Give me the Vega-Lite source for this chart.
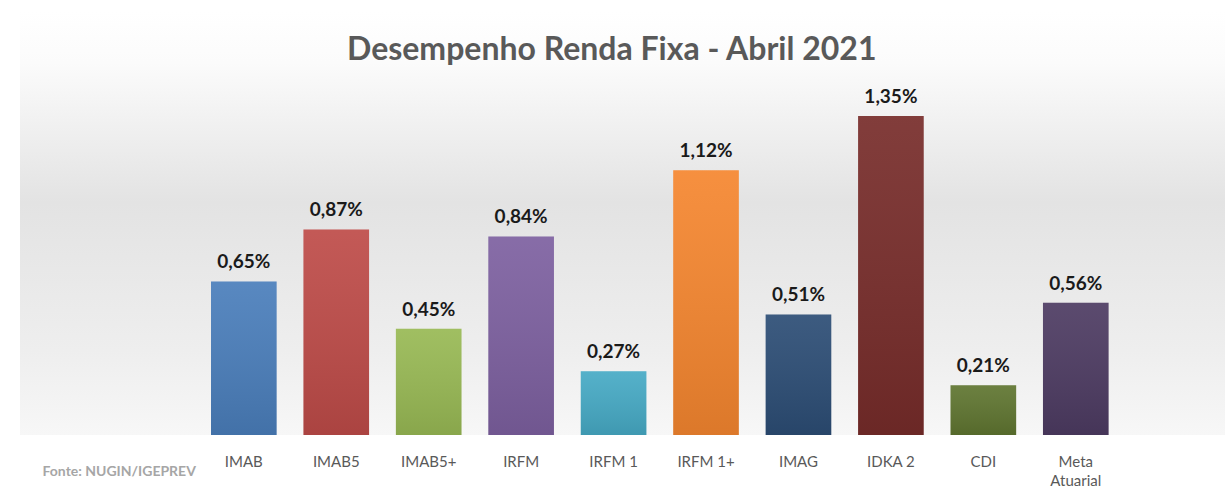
{
  "$schema": "https://vega.github.io/schema/vega-lite/v6.json",
  "autosize": {"type": "none"},
  "width": 1205,
  "height": 423,
  "padding": {"left": 20, "top": 12, "right": 6, "bottom": 54},
  "background": "#ffffff",
  "config": {
    "view": {"stroke": null},
    "locale": {"number": {"decimal": ",", "thousands": ".", "grouping": [3], "currency": ["R$", ""]}},
    "font": "Lato"
  },
  "title": {
    "text": "Desempenho Renda Fixa - Abril 2021",
    "offset": -55,
    "fontSize": 32,
    "font": "Lato",
    "fontWeight": "bold",
    "color": "#595959",
    "anchor": "start",
    "dx": 327,
    "limit": 0
  },
  "datasets": {
    "bars": [
      {"indice": "IMAB", "valor": 0.0065},
      {"indice": "IMAB5", "valor": 0.0087},
      {"indice": "IMAB5+", "valor": 0.0045},
      {"indice": "IRFM", "valor": 0.0084},
      {"indice": "IRFM 1", "valor": 0.0027},
      {"indice": "IRFM 1+", "valor": 0.0112},
      {"indice": "IMAG", "valor": 0.0051},
      {"indice": "IDKA 2", "valor": 0.0135},
      {"indice": "CDI", "valor": 0.0021},
      {"indice": "Meta Atuarial", "valor": 0.0056}
    ]
  },
  "layer": [
    {
      "data": {"values": [{}]},
      "mark": {
        "type": "rect",
        "fill": {
          "gradient": "linear", "x1": 0, "y1": 0, "x2": 0, "y2": 1,
          "stops": [
            {"offset": 0, "color": "#ffffff"},
            {"offset": 0.12, "color": "#fbfbfb"},
            {"offset": 0.45, "color": "#e3e3e3"},
            {"offset": 0.8, "color": "#eeeeee"},
            {"offset": 1, "color": "#f7f7f7"}
          ]
        }
      },
      "encoding": {}
    },
    {
      "data": {"name": "bars"},
      "mark": {"type": "bar"},
      "encoding": {
        "x": {
          "field": "indice", "type": "nominal", "sort": null,
          "scale": {"paddingInner": 0.29, "paddingOuter": 0, "range": [191, 1088.6], "round": false},
          "axis": {
            "title": null, "domain": false, "ticks": false, "labelAngle": 0,
            "labelFont": "Lato", "labelFontSize": 15, "labelColor": "#595959",
            "labelPadding": 19, "labelLineHeight": 19,
            "labelExpr": "datum.value == 'Meta Atuarial' ? ['Meta', 'Atuarial'] : datum.label"
          }
        },
        "y": {
          "field": "valor", "type": "quantitative",
          "scale": {"domain": [0, 0.0179], "nice": false, "zero": true},
          "axis": {
            "title": "Fonte: NUGIN/IGEPREV", "titleAngle": 0, "titleAlign": "left",
            "titleX": 22, "titleY": 459, "titleBaseline": "middle",
            "titleFont": "Lato", "titleFontSize": 14, "titleFontWeight": "bold", "titleColor": "#a6a6a6",
            "domain": false, "ticks": false, "labels": false, "grid": false
          }
        },
        "color": {
          "field": "indice", "type": "nominal", "sort": null, "legend": null,
          "scale": {
            "domain": ["IMAB", "IMAB5", "IMAB5+", "IRFM", "IRFM 1", "IRFM 1+", "IMAG", "IDKA 2", "CDI", "Meta Atuarial"],
            "range": ["#4a7ebb", "#be4b48", "#98b954", "#7d60a0", "#46aac5", "#f5862f", "#2c4d75", "#772c2a", "#5f7530", "#4d3b62"]
          }
        }
      }
    },
    {
      "data": {"name": "bars"},
      "mark": {
        "type": "bar",
        "fill": {
          "gradient": "linear", "x1": 0, "y1": 0, "x2": 0, "y2": 1,
          "stops": [
            {"offset": 0, "color": "rgba(255,255,255,0.08)"},
            {"offset": 1, "color": "rgba(0,0,0,0.10)"}
          ]
        }
      },
      "encoding": {
        "x": {"field": "indice", "type": "nominal", "sort": null},
        "y": {"field": "valor", "type": "quantitative"}
      }
    },
    {
      "data": {"name": "bars"},
      "mark": {"type": "text", "baseline": "bottom", "dy": -9, "fontSize": 19, "fontWeight": "bold", "font": "Lato", "color": "#1a1a1a"},
      "encoding": {
        "x": {"field": "indice", "type": "nominal", "sort": null},
        "y": {"field": "valor", "type": "quantitative"},
        "text": {"field": "valor", "type": "quantitative", "format": ".2%"}
      }
    }
  ]
}
